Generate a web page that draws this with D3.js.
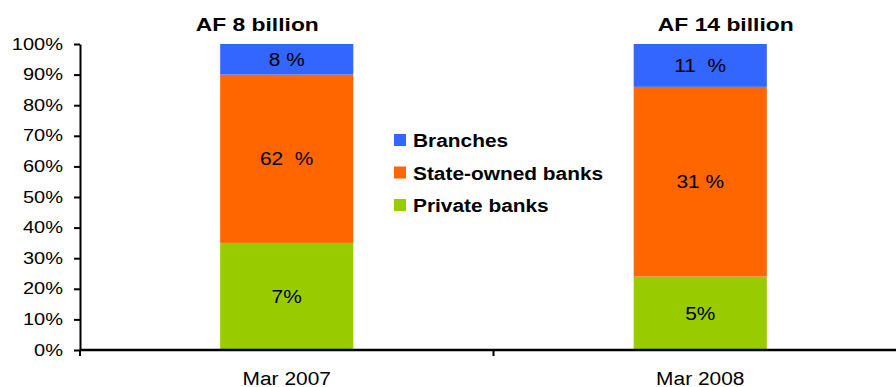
<!DOCTYPE html>
<html>
<head>
<meta charset="utf-8">
<script src="https://cdn.jsdelivr.net/npm/d3@7"></script>
<style>
  html, body { margin: 0; padding: 0; background: #fff; }
  svg { display: block; font-family: "Liberation Sans", Arial, sans-serif; }
  .stretch { transform-box: fill-box; transform-origin: center; }
  .title { font-size: 18px; font-weight: bold; transform: scaleX(1.27); }
  .ytick text { font-size: 16px; transform-box: fill-box; transform-origin: right center; transform: scaleX(1.25); }
  .xlabel { font-size: 19px; transform: scaleX(1.1); }
  .seglabel { font-size: 19px; transform: scaleX(1.1); white-space: pre; }
  .legend text { font-size: 18px; font-weight: bold; transform-box: fill-box; transform-origin: left center; transform: scaleX(1.16); }
</style>
</head>
<body>
<svg id="chart" width="896" height="387"></svg>
<script>
// Periods on the x axis
const periods = ["Mar 2007", "Mar 2008"];
// Totals shown above each bar
const totals = ["AF 8 billion", "AF 14 billion"];
// Share of each holder type, in percent of the total
const privateShare = [35, 24];
const stateShare = [55, 62];
const branchShare = [10, 14];
// Text printed inside each segment
const privateNotes = ["7%", "5%"];
const stateNotes = ["62  %", "31 %"];
const branchNotes = ["8 %", "11  %"];
// Series names and colours, bottom to top
const seriesKeys = ["private", "state", "branches"];
const seriesNames = ["Private banks", "State-owned banks", "Branches"];
const seriesColors = ["#99CC00", "#FF6600", "#3366FF"];
// Axis ticks
const yTicks = [0, 10, 20, 30, 40, 50, 60, 70, 80, 90, 100];

const rows = periods.map((p, i) => ({
  period: p,
  private: privateShare[i],
  state: stateShare[i],
  branches: branchShare[i],
  notes: { private: privateNotes[i], state: stateNotes[i], branches: branchNotes[i] }
}));

const svg = d3.select("#chart");
const plotLeft = 80, plotRight = 907, plotTop = 44, plotBottom = 350;

const x = d3.scaleBand().domain(periods).range([plotLeft, plotRight]).padding(0);
const barW = x.bandwidth() * 0.322;
const barX = d => x(d) + (x.bandwidth() - barW) / 2;
const y = d3.scaleLinear().domain([0, 100]).range([plotBottom, plotTop]);
const color = d3.scaleOrdinal().domain(seriesKeys).range(seriesColors);

const stacked = d3.stack().keys(seriesKeys)(rows);

// Bars
const layers = svg.append("g").selectAll("g")
  .data(stacked).join("g")
  .attr("fill", s => color(s.key));

layers.selectAll("rect")
  .data(s => s.map(seg => ({ seg, key: s.key })))
  .join("rect")
  .attr("x", d => barX(d.seg.data.period))
  .attr("width", barW)
  .attr("y", d => y(d.seg[1]))
  .attr("height", d => y(d.seg[0]) - y(d.seg[1]));

// Segment notes
layers.selectAll("text")
  .data(s => s.map(seg => ({ seg, key: s.key })))
  .join("text")
  .attr("class", "seglabel stretch")
  .attr("fill", "#000")
  .attr("text-anchor", "middle")
  .attr("dominant-baseline", "central")
  .attr("x", d => barX(d.seg.data.period) + barW / 2)
  .attr("y", d => (y(d.seg[0]) + y(d.seg[1])) / 2)
  .text(d => d.seg.data.notes[d.key]);

// Y axis
const yAxis = svg.append("g")
  .attr("class", "ytick")
  .attr("transform", `translate(${plotLeft},0)`)
  .call(d3.axisLeft(y).tickValues(yTicks).tickFormat(d => d + "%")
    .tickSize(6).tickSizeOuter(0).tickPadding(11));
yAxis.select(".domain").attr("stroke", "#000").attr("stroke-width", 2);
yAxis.selectAll(".tick line").attr("stroke", "#000").attr("stroke-width", 2);
yAxis.selectAll(".tick text").attr("fill", "#000");

// X axis: baseline, boundary ticks and centred period labels
const xAxis = svg.append("g").attr("transform", `translate(0,${plotBottom})`);
xAxis.append("line")
  .attr("x1", plotLeft).attr("x2", plotRight)
  .attr("stroke", "#000").attr("stroke-width", 2.5);
const bounds = periods.map(p => x(p)).concat([x.range()[1]]);
xAxis.selectAll("line.tick").data(bounds).join("line")
  .attr("class", "tick")
  .attr("x1", d => d).attr("x2", d => d)
  .attr("y1", 0).attr("y2", 6)
  .attr("stroke", "#000").attr("stroke-width", 2);
xAxis.selectAll("text").data(periods).join("text")
  .attr("class", "xlabel stretch")
  .attr("text-anchor", "middle")
  .attr("x", d => x(d) + x.bandwidth() / 2)
  .attr("y", 35)
  .attr("fill", "#000")
  .text(d => d);

// Totals above bars
const titleShift = [-29.5, 25.5];
svg.selectAll("text.title").data(totals).join("text")
  .attr("class", "title stretch")
  .attr("text-anchor", "middle")
  .attr("x", (d, i) => x(periods[i]) + x.bandwidth() / 2 + titleShift[i])
  .attr("y", 30.7)
  .attr("fill", "#000")
  .text(d => d);

// Legend, top to bottom
const legendOrder = seriesKeys.slice().reverse();
const legend = svg.append("g").attr("class", "legend")
  .attr("transform", "translate(394,134)");
const item = legend.selectAll("g").data(legendOrder).join("g")
  .attr("transform", (d, i) => `translate(0,${i * 32.5})`);
item.append("rect")
  .attr("width", 12).attr("height", 12)
  .attr("fill", d => color(d));
item.append("text")
  .attr("x", 19).attr("y", 13)
  .attr("fill", "#000")
  .text(d => seriesNames[seriesKeys.indexOf(d)]);
</script>
</body>
</html>
